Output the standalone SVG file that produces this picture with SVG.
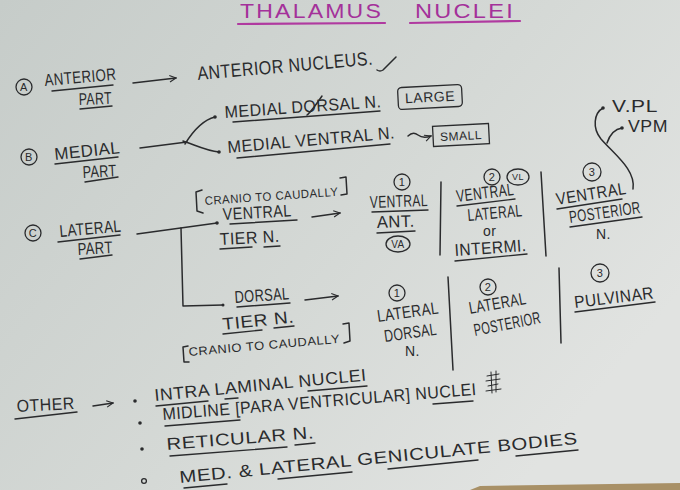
<svg xmlns="http://www.w3.org/2000/svg" width="680" height="490" viewBox="0 0 680 490">
<style>
.t{font-family:"Liberation Sans","DejaVu Sans",sans-serif;font-size:17px;fill:#2a2b2d;letter-spacing:0.5px}
.s{font-size:12px}
.n{font-size:11px}
.m{text-anchor:middle}
.ti{font-family:"Liberation Sans","DejaVu Sans",sans-serif;font-size:21px;fill:#a4319a;letter-spacing:2px}
.u{fill:none;stroke:#2a2b2d;stroke-width:1.4;stroke-linecap:round}
.l{fill:none;stroke:#2a2b2d;stroke-width:1.5;stroke-linecap:round;stroke-linejoin:round}
.c{fill:none;stroke:#2a2b2d;stroke-width:1.3}
.tu{fill:none;stroke:#b03aa0;stroke-width:2.2;stroke-linecap:round}
.d{fill:#2a2b2d}
</style>
<defs>
<linearGradient id="bg" x1="0" y1="0" x2="1" y2="0.6">
<stop offset="0" stop-color="#c6ccc9"/>
<stop offset="0.6" stop-color="#d5d9d6"/>
<stop offset="1" stop-color="#e1e3e1"/>
</linearGradient>
<marker id="ah" viewBox="0 0 10 10" refX="9" refY="5" markerWidth="8" markerHeight="8" orient="auto" markerUnits="userSpaceOnUse">
<path d="M1,1 L9,5 L1,9" fill="none" stroke="#2a2b2d" stroke-width="1.4"/>
</marker>
</defs>
<rect width="680" height="490" fill="url(#bg)"/>
<path d="M470 490 L480 486 L680 483 L680 490 Z" fill="#a89066"/>

<g id="title">
<text class="ti" x="240" y="18" textLength="143" lengthAdjust="spacingAndGlyphs">THALAMUS</text>
<text class="ti" x="415" y="18" textLength="100" lengthAdjust="spacingAndGlyphs">NUCLEI</text>
<path class="tu" d="M238 24 L385 23 M410 23 L520 21"/>
</g>

<g id="anterior-part">
<circle class="c" cx="24" cy="87" r="8"/>
<text class="t n m" x="24" y="91">A</text>
<text class="t" x="45" y="86" textLength="72" lengthAdjust="spacingAndGlyphs" transform="rotate(-5 45 86)">ANTERIOR</text>
<path class="u" d="M52 91 L113 85"/>
<text class="t" x="79" y="105" textLength="33" lengthAdjust="spacingAndGlyphs" transform="rotate(-2 79 105)">PART</text>
<path class="u" d="M80 109 L112 106"/>
</g>

<g id="anterior-nucleus">
<text class="t" x="198" y="80" style="font-size:19px" textLength="176" lengthAdjust="spacingAndGlyphs" transform="rotate(-5 198 80)">ANTERIOR NUCLEUS.</text>
<path class="l" d="M377 70 Q380 72 383 70 L396 57"/>
</g>

<g id="medial-part">
<circle class="c" cx="29" cy="157" r="8"/>
<text class="t n m" x="29" y="161">B</text>
<text class="t" x="55" y="160" textLength="66" lengthAdjust="spacingAndGlyphs" transform="rotate(-6 55 160)">MEDIAL</text>
<path class="u" d="M55 164 L118 157"/>
<text class="t" x="83" y="178" textLength="34" lengthAdjust="spacingAndGlyphs" transform="rotate(-3 83 178)">PART</text>
<path class="u" d="M85 182 L118 177"/>
</g>

<g id="medial-dorsal">
<text class="t" x="225" y="118" textLength="157" lengthAdjust="spacingAndGlyphs" transform="rotate(-4 225 118)">MEDIAL DORSAL N.</text>
<path class="l" d="M307 115 Q311 112 322 96"/>
<path class="u" d="M233 122 L380 111"/>
<g transform="rotate(-3 430 97)">
<rect class="c" x="398" y="86" width="64" height="22" rx="4"/>
<text class="t m" x="430" y="102" style="font-size:14px">LARGE</text>
</g>
</g>

<g id="medial-ventral">
<text class="t" x="228" y="153" textLength="168" lengthAdjust="spacingAndGlyphs" transform="rotate(-5 228 153)">MEDIAL VENTRAL N.</text>
<path class="u" d="M237 158 L390 144"/>
<g transform="rotate(-3 461 135)">
<rect class="c" x="433" y="125" width="56" height="20"/>
<text class="t m" x="461" y="140" style="font-size:12px">SMALL</text>
</g>
</g>

<g id="lateral-part">
<circle class="c" cx="33" cy="233" r="8"/>
<text class="t n m" x="33" y="237">C</text>
<text class="t" x="60" y="237" textLength="62" lengthAdjust="spacingAndGlyphs" transform="rotate(-5 60 237)">LATERAL</text>
<path class="u" d="M58 242 L120 235"/>
<text class="t" x="78" y="255" textLength="35" lengthAdjust="spacingAndGlyphs" transform="rotate(-3 78 255)">PART</text>
<path class="u" d="M80 259 L112 255"/>
</g>

<g id="ventral-tier">
<path class="l" d="M202 190 L196 192 L197 211 L203 213 M340 178 L346 177 L347 194 L341 195"/>
<text class="t s" x="205" y="205" textLength="134" lengthAdjust="spacingAndGlyphs" transform="rotate(-4 205 205)">CRANIO TO CAUDALLY</text>
<text class="t" x="223" y="220" textLength="69" lengthAdjust="spacingAndGlyphs" transform="rotate(-3 223 220)">VENTRAL</text>
<path class="u" d="M230 224 L297 220"/>
<text class="t" x="220" y="245" textLength="60" lengthAdjust="spacingAndGlyphs" transform="rotate(-3 220 245)">TIER N.</text>
<path class="u" d="M220 249 L252 247 M264 247 L280 246"/>
</g>

<g id="ventral-anterior">
<circle class="c" cx="402" cy="182" r="8"/>
<text class="t n m" x="402" y="186">1</text>
<text class="t" x="370" y="208" textLength="58" lengthAdjust="spacingAndGlyphs" transform="rotate(-2 370 208)">VENTRAL</text>
<path class="u" d="M372 212 L428 210"/>
<text class="t" x="377" y="228" textLength="38" lengthAdjust="spacingAndGlyphs" transform="rotate(-2 377 228)">ANT.</text>
<path class="u" d="M377 233 L415 231"/>
<ellipse class="c" cx="398" cy="244" rx="12" ry="8"/>
<text class="t m" x="398" y="248" style="font-size:10px">VA</text>
</g>

<g id="ventral-lateral">
<circle class="c" cx="492" cy="177" r="8"/>
<text class="t n m" x="492" y="181">2</text>
<ellipse class="c" cx="518" cy="177" rx="11" ry="8"/>
<text class="t m" x="518" y="180" style="font-size:9px">VL</text>
<text class="t" x="457" y="202" textLength="58" lengthAdjust="spacingAndGlyphs" transform="rotate(-7 457 202)">VENTRAL</text>
<path class="u" d="M457 206 L515 199"/>
<text class="t" x="468" y="221" textLength="55" lengthAdjust="spacingAndGlyphs" transform="rotate(-5 468 221)">LATERAL</text>
<text class="t" x="483" y="236" style="font-size:14px">or</text>
<text class="t" x="455" y="256" textLength="72" lengthAdjust="spacingAndGlyphs" transform="rotate(-4 455 256)">INTERMI.</text>
<path class="u" d="M455 261 L527 254"/>
</g>

<g id="ventral-posterior">
<circle class="c" cx="592" cy="172" r="9"/>
<text class="t n m" x="592" y="176">3</text>
<text class="t" x="557" y="205" textLength="71" lengthAdjust="spacingAndGlyphs" transform="rotate(-9 557 205)">VENTRAL</text>
<path class="u" d="M557 209 L622 199"/>
<text class="t" x="570" y="223" textLength="72" lengthAdjust="spacingAndGlyphs" transform="rotate(-8 570 223)">POSTERIOR</text>
<path class="u" d="M570 227 L642 217"/>
<text class="t" x="596" y="239" style="font-size:14px">N.</text>
</g>

<g id="vpl">
<text class="t" x="612" y="112" textLength="46" lengthAdjust="spacingAndGlyphs">V.PL</text>
</g>
<g id="vpm">
<text class="t" x="628" y="132" textLength="40" lengthAdjust="spacingAndGlyphs">VPM</text>
</g>

<g id="dorsal-tier">
<text class="t" x="235" y="303" textLength="55" lengthAdjust="spacingAndGlyphs" transform="rotate(-4 235 303)">DORSAL</text>
<path class="u" d="M237 307 L290 303"/>
<text class="t" x="223" y="330" textLength="72" lengthAdjust="spacingAndGlyphs" transform="rotate(-6 223 330)">TIER N.</text>
<path class="u" d="M223 334 L262 330 M274 328 L294 326"/>
<path class="l" d="M188 346 L183 347 L184 362 L189 362 M343 324 L349 323 L350 341 L344 343"/>
<text class="t s" x="189" y="356" textLength="152" lengthAdjust="spacingAndGlyphs" transform="rotate(-5 189 356)">CRANIO TO CAUDALLY</text>
</g>

<g id="lateral-dorsal">
<circle class="c" cx="397" cy="293" r="8"/>
<text class="t n m" x="397" y="297">1</text>
<text class="t" x="378" y="322" textLength="62" lengthAdjust="spacingAndGlyphs" transform="rotate(-8 378 322)">LATERAL</text>
<text class="t" x="385" y="342" textLength="53" lengthAdjust="spacingAndGlyphs" transform="rotate(-8 385 342)">DORSAL</text>
<text class="t" x="405" y="356" style="font-size:14px">N.</text>
</g>

<g id="lateral-posterior">
<circle class="c" cx="488" cy="287" r="8"/>
<text class="t n m" x="488" y="291">2</text>
<text class="t" x="470" y="314" textLength="58" lengthAdjust="spacingAndGlyphs" transform="rotate(-10 470 314)">LATERAL</text>
<text class="t" x="475" y="336" textLength="68" lengthAdjust="spacingAndGlyphs" transform="rotate(-11 475 336)">POSTERIOR</text>
</g>

<g id="pulvinar">
<circle class="c" cx="600" cy="273" r="9"/>
<text class="t n m" x="600" y="277">3</text>
<text class="t" x="575" y="308" textLength="80" lengthAdjust="spacingAndGlyphs" transform="rotate(-7 575 308)">PULVINAR</text>
<path class="u" d="M575 312 L655 302"/>
</g>

<g id="other">
<text class="t" x="17" y="412" textLength="58" lengthAdjust="spacingAndGlyphs" transform="rotate(-3 17 412)">OTHER</text>
<path class="u" d="M15 419 L77 412"/>
<circle class="d" cx="135" cy="401" r="1.8"/>
<circle class="d" cx="140" cy="423" r="1.8"/>
<circle class="d" cx="142" cy="449" r="1.8"/>
<circle class="c" cx="144" cy="481" r="2.4"/>
<text class="t" x="155" y="401" textLength="213" lengthAdjust="spacingAndGlyphs" transform="rotate(-5.5 155 401)">INTRA LAMINAL NUCLEI</text>
<path class="u" d="M156 406 L208 401 M225 399 L238 398 M308 391 L367 386"/>
<text class="t" x="163" y="420" textLength="315" lengthAdjust="spacingAndGlyphs" transform="rotate(-4.6 163 420)">MIDLINE [PARA VENTRICULAR] NUCLEI</text>
<path class="u" d="M165 426 L240 420 M433 404 L473 401"/>
<path class="l" style="stroke-width:1" d="M487 376 L499 374 M486 381 L500 379 M488 386 L498 384 M486 391 L501 389 M491 372 L492 393 M496 371 L496 392"/>
<text class="t" x="167" y="450" textLength="148" lengthAdjust="spacingAndGlyphs" transform="rotate(-4.6 167 450)">RETICULAR N.</text>
<path class="u" d="M170 456 L287 447 M295 445 L315 443"/>
<text class="t" x="180" y="483" textLength="400" lengthAdjust="spacingAndGlyphs" transform="rotate(-5.6 180 483)">MED. &amp; LATERAL GENICULATE BODIES</text>
<path class="u" d="M184 488 L227 484 M278 479 L352 472 M388 469 L478 460 M516 456 L578 450"/>
</g>

<g id="connectors">
<path class="l" d="M133 83 L176 78" marker-end="url(#ah)"/>
<path class="l" d="M140 148 L187 142"/>
<path class="l" d="M185 144 C193 131 203 120 215 117"/>
<path class="l" d="M183 141 C195 145 207 151 219 152"/>
<circle class="d" cx="215" cy="117" r="1.8"/>
<circle class="d" cx="219" cy="152" r="1.8"/>
<path class="l" d="M408 136 Q413 131 418 135 Q423 139 431 136" marker-end="url(#ah)"/>
<path class="l" d="M137 234 L217 223"/>
<circle class="d" cx="217" cy="223" r="1.8"/>
<path class="l" d="M181 228 L183 306 L223 305"/>
<circle class="d" cx="223" cy="305" r="1.5"/>
<path class="l" d="M312 217 L340 213" marker-end="url(#ah)"/>
<path class="l" d="M305 300 L338 296" marker-end="url(#ah)"/>
<path class="l" d="M93 406 L113 403" marker-end="url(#ah)"/>
<path class="l" d="M441 182 L440 255"/>
<path class="l" d="M541 172 L546 256"/>
<path class="l" d="M448 277 L453 370"/>
<path class="l" d="M559 268 L561 343"/>
<path class="l" d="M633 189 C636 170 615 155 601 139 C592 128 594 113 603 108"/>
<circle class="d" cx="603" cy="108" r="1.8"/>
<path class="l" d="M607 143 C610 134 615 129 622 128"/>
<circle class="d" cx="622" cy="128" r="1.8"/>
</g>
</svg>
